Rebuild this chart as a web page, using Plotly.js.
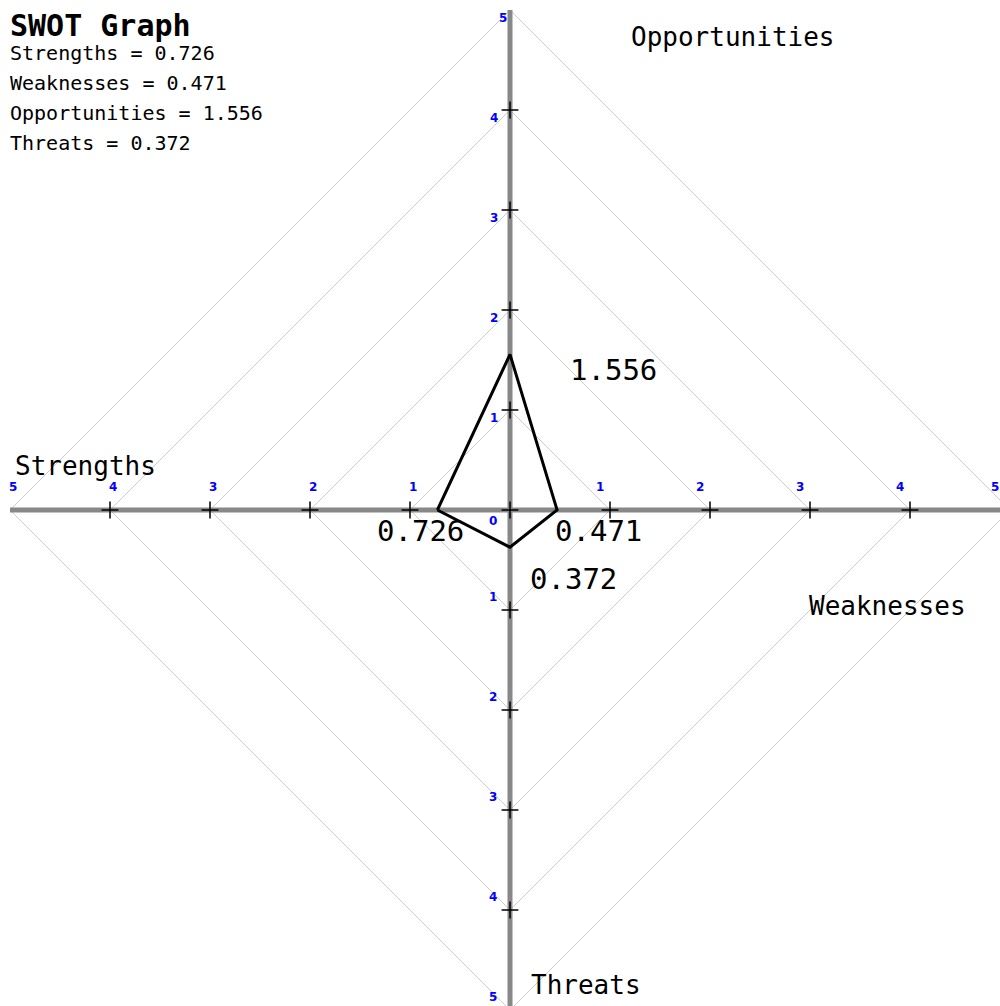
<!DOCTYPE html>
<html>
<head>
<meta charset="utf-8">
<script src="https://cdn.plot.ly/plotly-3.0.1.min.js"></script>
<style>html,body{margin:0;padding:0;background:#fff;}#chart{width:1000px;height:1006px;}</style>
</head>
<body>
<div id="chart"></div>
<script>
// ---- data ----
const categories = ['Strengths', 'Weaknesses', 'Opportunities', 'Threats'];
const values = [0.726, 0.471, 1.556, 0.372];
const tickValues = [1, 2, 3, 4, 5];
const chartTitle = 'SWOT Graph';

// ---- layout helpers (directions & styling) ----
const dirs = { Strengths: [-1, 0], Weaknesses: [1, 0], Opportunities: [0, 1], Threats: [0, -1] };
const MONO = '"DejaVu Sans Mono", "Liberation Mono", monospace';

const traces = [];

// diamonds (grid)
tickValues.forEach(r => {
  traces.push({
    x: [r, 0, -r, 0, r], y: [0, r, 0, -r, 0],
    mode: 'lines', line: { color: '#cccccc', width: 1 }, hoverinfo: 'skip'
  });
});

// main axes
const maxR = tickValues[tickValues.length - 1];
traces.push({ x: [-maxR, maxR], y: [0, 0], mode: 'lines', line: { color: '#888888', width: 5 }, hoverinfo: 'skip' });
traces.push({ x: [0, 0], y: [-maxR, maxR], mode: 'lines', line: { color: '#888888', width: 5 }, hoverinfo: 'skip' });

// tick crosses
const cx = [0], cy = [0];
tickValues.slice(0, -1).forEach(v => {
  cx.push(v, -v, 0, 0); cy.push(0, 0, v, -v);
});
traces.push({
  x: cx, y: cy, mode: 'markers',
  marker: { symbol: 'cross-thin', size: 12, color: '#000', line: { color: '#000', width: 1.5 } },
  hoverinfo: 'skip'
});

// SWOT polygon: S -> O -> W -> T -> S
const order = ['Strengths', 'Opportunities', 'Weaknesses', 'Threats', 'Strengths'];
const px = order.map(c => dirs[c][0] * values[categories.indexOf(c)]);
const py = order.map(c => dirs[c][1] * values[categories.indexOf(c)]);
traces.push({ x: px, y: py, mode: 'lines', line: { color: '#000', width: 3 }, hoverinfo: 'skip' });

const annotations = [];
const blue = { family: '"DejaVu Sans", sans-serif', size: 12, color: '#0000ff', weight: 'bold' };
const noArrow = { showarrow: true, arrowcolor: 'rgba(0,0,0,0)', arrowwidth: 0.1, arrowhead: 0, standoff: 0, startstandoff: 0 };

// tick labels
tickValues.forEach(v => {
  annotations.push({ x: -v, y: 0, text: String(v), showarrow: false, xshift: 3, yshift: 23, font: blue });
  // right side: label anchored via tail in data units so the edge label stays visible
  const rOff = v === maxR ? 0.15 : 0.1;
  annotations.push(Object.assign({ x: v - rOff, y: 0, axref: 'x', ax: v - rOff, ay: -23, text: String(v), font: blue }, noArrow));
  annotations.push({ x: 0, y: v, text: String(v), showarrow: false, xshift: v === maxR ? -7 : -16, yshift: -8, font: blue });
  // bottom side
  annotations.push(Object.assign({ x: 0, y: -v + 0.13, ayref: 'y', ay: -v + 0.13, ax: -17, text: String(v), font: blue }, noArrow));
});
annotations.push({ x: 0, y: 0, text: '0', showarrow: false, xshift: -17, yshift: -11, font: blue });

// value labels near vertices
const valueShift = { Strengths: [-17, -21], Weaknesses: [41, -21], Opportunities: [103, -16], Threats: [63, -32] };
categories.forEach((c, i) => {
  annotations.push({
    x: dirs[c][0] * values[i], y: dirs[c][1] * values[i], text: values[i].toFixed(3), showarrow: false,
    xshift: valueShift[c][0], yshift: valueShift[c][1],
    font: { family: MONO, size: 29, color: '#000' }
  });
});

// category names (pixel positions via paper coords)
const namePos = { Strengths: [13, 466], Weaknesses: [807, 606], Opportunities: [629, 37], Threats: [529, 985] };
categories.forEach(c => {
  annotations.push({
    xref: 'paper', yref: 'paper', x: namePos[c][0] / 1000, y: 1 - namePos[c][1] / 1006,
    xanchor: 'left', yanchor: 'middle', text: c, showarrow: false,
    font: { family: MONO, size: 26, color: '#000' }
  });
});

// title and stats block
annotations.push({
  xref: 'paper', yref: 'paper', x: 8 / 1000, y: 1 - 25 / 1006, xanchor: 'left', yanchor: 'middle',
  text: '<b>' + chartTitle + '</b>', showarrow: false, font: { family: MONO, size: 30, color: '#000' }
});
categories.forEach((c, i) => {
  annotations.push({
    xref: 'paper', yref: 'paper', x: 8 / 1000, y: 1 - (53 + 30 * i) / 1006, xanchor: 'left', yanchor: 'middle',
    text: c + ' = ' + values[i].toFixed(3), showarrow: false, font: { family: MONO, size: 20, color: '#000' }
  });
});

const layout = {
  width: 1000, height: 1006,
  margin: { l: 0, r: 0, t: 0, b: 0 },
  paper_bgcolor: '#fff', plot_bgcolor: '#fff',
  showlegend: false,
  xaxis: { range: [-5.1, 4.9], visible: false, fixedrange: true },
  yaxis: { range: [-4.96, 5.1], visible: false, fixedrange: true },
  annotations: annotations
};

Plotly.newPlot('chart', traces, layout, { displayModeBar: false, staticPlot: true });
</script>
</body>
</html>
